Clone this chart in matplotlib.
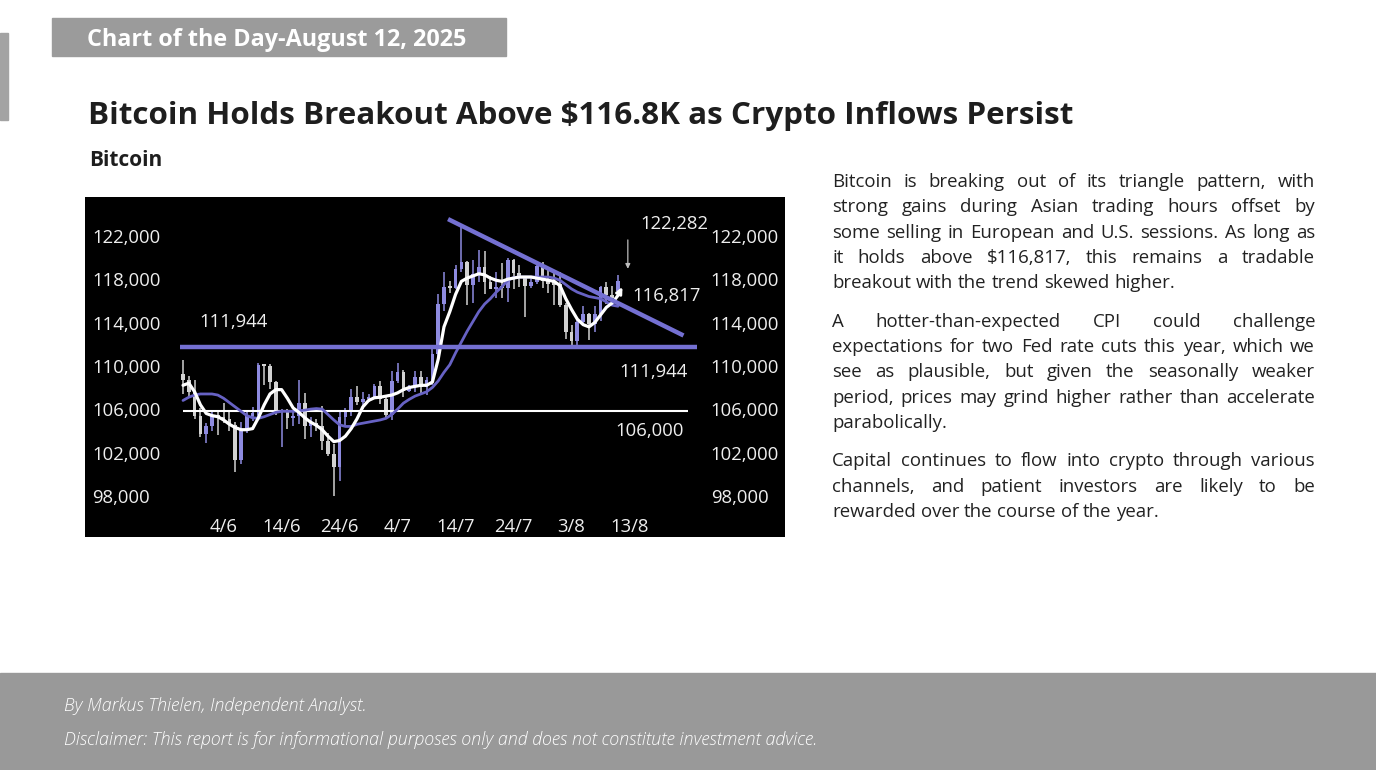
import numpy as np
import pandas as pd
import matplotlib
matplotlib.use("Agg")
import matplotlib.pyplot as plt
import matplotlib.transforms as mtransforms

# daily candles, thousands of USD, first candle = 28 May 2025
start = pd.Timestamp("2025-05-28")
opens = [109.4, 108.9, 107.8, 105.6, 103.9, 104.6, 105.7, 105.5, 105.3, 104.7,
         101.5, 104.3, 105.6, 105.7, 110.3, 110.2, 108.7, 105.9, 106.0, 105.4,
         105.6, 106.8, 104.6, 104.9, 104.6, 103.3, 102.1, 100.9, 105.5, 106.0,
         107.3, 106.9, 107.1, 107.3, 108.3, 107.1, 105.7, 108.8, 109.6, 107.9,
         108.2, 109.2, 108.2, 108.9, 111.3, 115.9, 117.5, 117.4, 119.1, 119.8,
         117.7, 118.7, 119.3, 117.9, 117.3, 117.4, 117.4, 120.0, 118.8, 118.3,
         117.6, 117.9, 119.4, 118.0, 117.9, 117.8, 115.8, 113.3, 112.5, 114.2,
         115.0, 114.1, 115.0, 117.5, 116.7, 117.1]
highs = [110.7, 109.3, 108.9, 106.3, 104.9, 105.9, 106.0, 106.8, 105.9, 105.0,
         105.0, 105.9, 106.4, 110.5, 110.4, 110.4, 108.8, 106.2, 106.2, 106.1,
         108.9, 107.7, 105.5, 105.3, 106.5, 104.0, 103.0, 105.9, 106.3, 108.1,
         108.3, 107.8, 107.6, 108.5, 108.8, 107.5, 109.7, 110.5, 109.8, 108.4,
         109.7, 109.7, 109.2, 111.9, 116.8, 118.9, 118.0, 119.5, 123.2, 119.9,
         120.0, 120.9, 120.8, 118.5, 118.9, 119.7, 120.2, 120.1, 119.5, 118.5,
         118.3, 119.8, 119.8, 119.3, 118.8, 118.9, 116.0, 114.0, 114.7, 115.7,
         115.1, 115.7, 117.6, 117.9, 117.6, 118.6]
lows = [107.6, 107.2, 105.3, 103.6, 103.1, 104.2, 103.8, 104.9, 104.2, 100.4,
        101.1, 104.0, 105.1, 105.4, 108.4, 108.1, 105.7, 102.7, 104.4, 104.6,
        104.8, 103.4, 103.6, 104.2, 102.4, 101.9, 98.2, 99.6, 104.7, 105.6,
        106.6, 106.2, 106.9, 107.2, 106.7, 105.3, 105.2, 108.6, 107.3, 107.8,
        107.8, 107.5, 107.5, 108.4, 110.6, 115.3, 116.9, 117.3, 118.9, 115.8,
        116.0, 117.9, 116.8, 117.3, 116.5, 116.5, 116.1, 117.3, 117.5, 114.7,
        117.4, 117.8, 117.4, 116.9, 115.8, 115.6, 112.7, 112.0, 112.0, 114.1,
        112.6, 113.3, 114.3, 115.9, 116.3, 116.8]
closes = [108.9, 107.8, 105.6, 103.9, 104.6, 105.7, 105.4, 105.3, 104.7, 101.5,
          104.3, 105.6, 105.7, 110.3, 110.2, 108.7, 105.9, 106.0, 105.4, 105.6,
          106.8, 104.6, 104.9, 104.6, 103.3, 102.1, 100.9, 105.5, 106.0, 107.3,
          106.9, 107.1, 107.3, 108.3, 107.1, 105.7, 108.8, 109.6, 107.9, 108.2,
          109.2, 108.2, 108.9, 111.3, 115.9, 117.5, 117.4, 119.1, 119.8, 117.7,
          118.7, 119.3, 117.9, 117.3, 117.4, 117.4, 120.0, 118.8, 118.3, 117.6,
          117.9, 119.4, 118.0, 117.8, 117.7, 115.8, 113.3, 112.5, 114.2, 115.0,
          114.1, 115.0, 117.5, 116.7, 116.5, 118.0]

# moving averages as drawn on the chart
ma_fast = [108.4, 108.6, 107.8, 106.6, 105.8, 105.6, 105.5, 105.2, 104.8, 104.5,
           104.3, 104.3, 104.4, 105.4, 106.6, 107.6, 108.0, 108.0, 107.2, 106.3,
           105.9, 105.4, 105.0, 104.7, 104.3, 103.7, 103.2, 103.3, 103.7, 104.4,
           105.3, 106.4, 107.0, 107.25, 107.3, 107.4, 107.5, 107.7, 108.0, 108.2,
           108.3, 108.4, 108.4, 108.7, 110.8, 113.8, 115.2, 116.8, 118.0, 118.3,
           118.5, 118.7, 118.6, 118.3, 118.1, 118.0, 118.2, 118.3, 118.4, 118.4,
           118.4, 118.3, 118.2, 118.1, 118.0, 117.6, 116.4, 115.4, 114.5, 114.0,
           113.8, 114.2, 114.9, 115.6, 116.0, 116.7]
ma_slow = [107.0, 107.3, 107.5, 107.6, 107.6, 107.6, 107.5, 107.2, 106.8, 106.4,
           106.0, 105.6, 105.4, 105.35, 105.5, 105.7, 105.9, 106.0, 106.0, 106.0,
           106.05, 106.1, 106.2, 106.25, 106.2, 105.7, 105.2, 104.75, 104.6, 104.6,
           104.8, 104.9, 105.0, 105.1, 105.2, 105.35, 105.7, 106.2, 106.75, 107.1,
           107.4, 107.6, 107.8, 108.2, 108.8, 109.6, 110.3, 111.4, 112.4, 113.4,
           114.3, 115.2, 115.9, 116.4, 117.0, 117.5, 118.1, 118.35, 118.4, 118.4,
           118.4, 118.4, 118.4, 118.4, 118.3, 118.1, 117.7, 117.3, 117.0, 116.8,
           116.6, 116.5, 116.4, 116.1, 115.8, 115.7]
fast_tip = 117.7

support = 111.944
base_level = 106.0
recent_high = 122.282
breakout_level = 116.817
trend_x = [45.7, 86.3]
trend_y = [123.75, 113.0]

y_ticks = [98, 102, 106, 110, 114, 118, 122]
x_tick_dates = ["2025-06-04", "2025-06-14", "2025-06-24", "2025-07-04",
                "2025-07-14", "2025-07-24", "2025-08-03", "2025-08-13"]

W, H = 1376, 770
fig = plt.figure(figsize=(W / 100, H / 100), dpi=100)
fig.patch.set_facecolor("white")
FONT = "Open Sans"
PURPLE = "#7470d2"
PURPLE_MA = "#6762c4"


def fx(px):
    return px / W


def fy(py):
    return 1 - py / H


# page furniture
fig.patches.append(plt.Rectangle((0, fy(120)), fx(8), (120 - 33) / H, transform=fig.transFigure,
                                 color="#a3a3a3", zorder=0))
fig.patches.append(plt.Rectangle((fx(52), fy(56)), fx(454), 38 / H, transform=fig.transFigure,
                                 color="#9b9b9b", zorder=0))
fig.patches.append(plt.Rectangle((0, 0), 1, (770 - 673) / H, transform=fig.transFigure,
                                 color="#999999", zorder=0))

fig.text(fx(87), fy(45.5), "Chart of the Day-August 12, 2025", color="white", fontsize=16.8,
         fontweight="bold", family=FONT, va="baseline")
fig.text(fx(88), fy(124), "Bitcoin Holds Breakout Above \\$116.8K as Crypto Inflows Persist",
         color="#1e1e1e", fontsize=22.6, fontweight="bold", family=FONT, va="baseline")
fig.text(fx(89), fy(166), "Bitcoin", color="#1e1e1e", fontsize=15, fontweight="bold",
         family=FONT, va="baseline")
fig.text(fx(64), fy(711), "By Markus Thielen, Independent Analyst.", color="white",
         fontsize=12.9, style="italic", fontweight="light", family=FONT, va="baseline")
fig.text(fx(64), fy(745), "Disclaimer: This report is for informational purposes only and does "
         "not constitute investment advice.", color="white", fontsize=12.9, style="italic",
         fontweight="light", family=FONT, va="baseline")

# justified commentary
paragraphs = [
    ["Bitcoin is breaking out of its triangle pattern, with",
     "strong gains during Asian trading hours offset by",
     "some selling in European and U.S. sessions. As long as",
     "it holds above \\$116,817, this remains a tradable",
     "breakout with the trend skewed higher."],
    ["A hotter-than-expected CPI could challenge",
     "expectations for two Fed rate cuts this year, which we",
     "see as plausible, but given the seasonally weaker",
     "period, prices may grind higher rather than accelerate",
     "parabolically."],
    ["Capital continues to flow into crypto through various",
     "channels, and patient investors are likely to be",
     "rewarded over the course of the year."],
]
BODY = 13.4
renderer = fig.canvas.get_renderer()
x0, x1 = 832, 1315
baseline = 187
for para in paragraphs:
    for k, line in enumerate(para):
        words = line.split()
        texts = [fig.text(0, fy(baseline), w, fontsize=BODY, family=FONT, color="#222222",
                          va="baseline") for w in words]
        widths = [t.get_window_extent(renderer).width for t in texts]
        if k == len(para) - 1 or len(words) == 1:
            sp = fig.text(0, 0, "a a", fontsize=BODY, family=FONT)
            aa = fig.text(0, 0, "aa", fontsize=BODY, family=FONT)
            gap = sp.get_window_extent(renderer).width - aa.get_window_extent(renderer).width
            sp.remove()
            aa.remove()
        else:
            gap = (x1 - x0 - sum(widths)) / (len(words) - 1)
        x = x0
        for t, w in zip(texts, widths):
            t.set_x(fx(x))
            x += w + gap
        baseline += 25.3
    baseline += 38.5 - 25.3

# chart panel
ax = fig.add_axes([fx(85), fy(537), fx(700), 340 / H])
ax.set_facecolor("black")
ax.set_xlim(-16.9, 103.8)
ax.set_ylim(94.39, 125.79)
for s in ax.spines.values():
    s.set_visible(False)
ax.set_xticks([])
ax.set_yticks([])

idx = np.arange(len(opens))
o = np.array(opens)
c = np.array(closes)
up = c > o
cols = np.where(up, "#8e8be0", "#d2d2d2")
ax.vlines(idx, lows, highs, colors=cols, lw=1.1, zorder=2)
body = np.maximum(np.abs(c - o), 0.2)
ax.bar(idx, body, bottom=np.minimum(o, c), width=0.65, color=cols, zorder=2)

ax.hlines(base_level, 0, 87.1, color="white", lw=1.5, zorder=3)
ax.plot(idx, ma_slow, color=PURPLE_MA, lw=2.0, zorder=4, solid_capstyle="round")
ax.plot(idx, ma_fast, color="white", lw=2.3, zorder=5, solid_capstyle="round")
ax.annotate("", xy=(idx[-1] + 1, fast_tip), xytext=(idx[-1], ma_fast[-1]),
            arrowprops=dict(arrowstyle="-|>", color="white", lw=2, mutation_scale=9), zorder=5)
ax.hlines(support, -0.5, 88.6, color=PURPLE, lw=3.2, zorder=6)
ax.plot(trend_x, trend_y, color=PURPLE, lw=3.2, zorder=6, solid_capstyle="butt")
ax.annotate("", xy=(idx[-1] + 1.7, highs[-1] + 0.3), xytext=(idx[-1] + 1.7, recent_high - 0.2),
            arrowprops=dict(arrowstyle="-|>", color="#bdbdbd", lw=0.9, mutation_scale=7), zorder=6)

LBL = dict(color="#eeeeee", fontsize=13.3, family=FONT, va="center", ha="left")
ax.text(2.9, support + 2.3, f"{support * 1000:,.0f}", **LBL)
ax.text(75.3, support - 2.3, f"{support * 1000:,.0f}", **LBL)
ax.text(74.5, base_level - 1.8, f"{base_level * 1000:,.0f}", **LBL)
ax.text(78.8, recent_high + 1.0, f"{recent_high * 1000:,.0f}", **LBL)
ax.text(77.4, breakout_level - 0.2, f"{breakout_level * 1000:,.0f}", **LBL)

for v in y_ticks:
    ax.text(-15.7, v, f"{v * 1000:,}", **LBL)
    ax.text(91.0, v, f"{v * 1000:,}", **LBL)

btm = mtransforms.blended_transform_factory(ax.transData, ax.transAxes)
for d in x_tick_dates:
    ts = pd.Timestamp(d)
    pos = (ts - start).days
    ax.text(pos, 0.03, f"{ts.day}/{ts.month}", transform=btm, color="#eeeeee",
            fontsize=13.3, family=FONT, ha="center", va="center")

fig.savefig("out.png", dpi=100, facecolor="white")
